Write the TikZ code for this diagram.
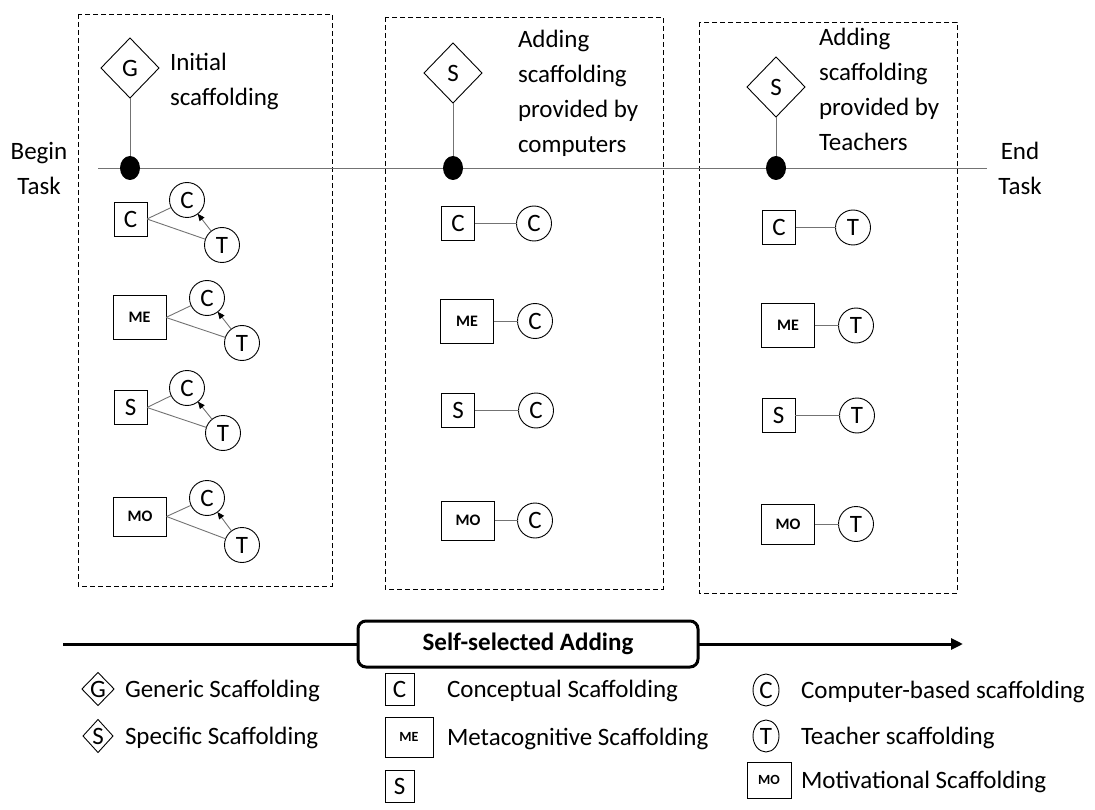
\documentclass[tikz,border=0pt]{standalone}
\usepackage{fontspec}
\setmainfont{Carlito}
\usetikzlibrary{shapes.geometric,arrows.meta}
\begin{document}
\begin{tikzpicture}[x=1pt,y=-1pt,
  every node/.style={inner sep=0pt,outer sep=0pt},
  txt/.style={font=\fontsize{25}{35}\selectfont},
  panel/.style={draw,line width=0.9pt,dash pattern=on 5pt off 3pt},
  bigdia/.style={draw,diamond,line width=0.9pt,minimum width=58pt,minimum height=60pt,font=\fontsize{25}{30}\selectfont},
  smalldia/.style={draw,diamond,line width=0.9pt,minimum width=30pt,minimum height=33pt,font=\fontsize{25}{30}\selectfont},
  tdot/.style={ellipse,fill=black,minimum width=20pt,minimum height=24pt},
  sbox/.style={draw,rectangle,line width=0.9pt,minimum width=33pt,minimum height=34pt,font=\fontsize{25}{30}\selectfont},
  wbox/.style={draw,rectangle,line width=0.9pt,minimum width=53pt,minimum height=44pt,font=\fontsize{16}{18}\selectfont\bfseries},
  agent/.style={draw,circle,line width=0.9pt,minimum size=35pt,font=\fontsize{25}{30}\selectfont},
  keyagent/.style={draw,ellipse,line width=0.9pt,minimum width=26pt,minimum height=32pt,font=\fontsize{25}{30}\selectfont},
  keysq/.style={sbox,minimum width=29pt,minimum height=32pt},
  keywide/.style={wbox,minimum width=48pt,minimum height=40pt,font=\fontsize{14}{16}\selectfont\bfseries},
  link/.style={draw=black!55,line width=0.9pt},
  feed/.style={link,-{Triangle[length=7pt,width=6pt,color=black]}},
  flow/.style={line width=3pt},
]
\useasboundingbox (0,0) rectangle (1095,810);

% dashed stage panels
\draw[panel] (78,14) rectangle (332,586);
\draw[panel] (385,17) rectangle (663,589);
\draw[panel] (699,22) rectangle (957,593);

% task timeline
\node[txt,align=center,anchor=north] (begin) at (39,142) {Begin\\Task};
\node[txt,align=center,anchor=north] (end) at (1020,142) {End\\Task};
\coordinate (tl0) at (98,168);
\coordinate (tl1) at (987,168);
\draw[link] (tl0) -- (tl1);

% stage 1: generic scaffolding
\node[bigdia] (g1) at (130,68) {G};
\node[tdot] (d1) at (130,168) {};
\draw[link] (g1.south) -- (d1);
\node[txt,align=left,anchor=north west] (h1) at (170,53) {Initial\\scaffolding};

\node[sbox] (a1) at (130.5,219) {C};
\node[agent] (a1c) at (187,200) {C};
\node[agent] (a1t) at (222,245) {T};
\node[wbox] (a2) at (139.5,317.5) {ME};
\node[agent] (a2c) at (207,298) {C};
\node[agent] (a2t) at (242,343) {T};
\node[sbox] (a3) at (130.5,407.5) {S};
\node[agent] (a3c) at (187,388) {C};
\node[agent] (a3t) at (223,433) {T};
\node[wbox,minimum height=39pt] (a4) at (140,516.5) {MO};
\node[agent] (a4c) at (207,498) {C};
\node[agent] (a4t) at (242,545) {T};
\foreach \r in {a1,a2,a3,a4}{
  \draw[link] (\r.east) -- (\r c);
  \draw[link] (\r.east) -- (\r t);
  \draw[feed] (\r t) -- (\r c);
}

% stage 2: computer-provided scaffolding
\node[bigdia] (g2) at (453,73) {S};
\node[tdot] (d2) at (453,168) {};
\draw[link] (g2.south) -- (d2);
\node[txt,align=left,anchor=north west] (h2) at (518,30) {Adding\\scaffolding\\provided by\\computers};

\node[sbox] (b1) at (458,223.5) {C};
\node[agent] (b1c) at (534,223.5) {C};
\node[wbox] (b2) at (467,321) {ME};
\node[agent] (b2c) at (535,321) {C};
\node[sbox] (b3) at (458,410.5) {S};
\node[agent] (b3c) at (536,410.5) {C};
\node[wbox,minimum height=39pt] (b4) at (468,520.5) {MO};
\node[agent] (b4c) at (535,520.5) {C};
\foreach \r in {b1,b2,b3,b4}{
  \draw[link] (\r.east) -- (\r c);
}

% stage 3: teacher-provided scaffolding
\node[bigdia] (g3) at (776,87) {S};
\node[tdot] (d3) at (776,168) {};
\draw[link] (g3.south) -- (d3);
\node[txt,align=left,anchor=north west] (h3) at (819,28) {Adding\\scaffolding\\provided by\\Teachers};

\node[sbox] (e1) at (779,227.5) {C};
\node[agent] (e1t) at (853,227.5) {T};
\node[wbox] (e2) at (788,325.5) {ME};
\node[agent] (e2t) at (856,325.5) {T};
\node[sbox] (e3) at (778.5,415.5) {S};
\node[agent] (e3t) at (857,415.5) {T};
\node[wbox,minimum height=40pt] (e4) at (788,524) {MO};
\node[agent] (e4t) at (856,524) {T};
\foreach \r in {e1,e2,e3,e4}{
  \draw[link] (\r.east) -- (\r t);
}

% self-selected progression arrow
\node[draw,line width=3pt,rounded corners=8pt,minimum width=340pt,minimum height=46pt,
      font=\fontsize{25}{30}\selectfont\bfseries] (self) at (528,644) {Self-selected Adding};
\coordinate (f0) at (63,644);
\coordinate (f1) at (963,644);
\draw[flow] (f0) -- (self.west);
\draw[flow,-{Triangle[length=12pt,width=11pt]}] (self.east) -- (f1);

% legend
\node[smalldia] (kg) at (98,689) {G};
\node[txt,anchor=base west] (kgt) at (125,697) {Generic Scaffolding};
\node[smalldia] (ks) at (98,736) {S};
\node[txt,anchor=base west] (kst) at (125,744) {Specific Scaffolding};

\node[keysq] (kc) at (399.5,689) {C};
\node[txt,anchor=base west] (kct) at (447,697) {Conceptual Scaffolding};
\node[keywide] (kme) at (409,737) {ME};
\node[txt,anchor=base west] (kmet) at (447,745) {Metacognitive Scaffolding};
\node[keysq] (ksq) at (399.5,786) {S};

\node[keyagent] (kcc) at (766,690) {C};
\node[txt,anchor=base west] (kcct) at (801,698) {Computer-based scaffolding};
\node[keyagent] (ktt) at (766,736) {T};
\node[txt,anchor=base west] (kttt) at (801,744) {Teacher scaffolding};
\node[keywide,minimum width=44pt,minimum height=36pt] (kmo) at (769,780) {MO};
\node[txt,anchor=base west] (kmot) at (801,788) {Motivational Scaffolding};
\end{tikzpicture}
\end{document}
